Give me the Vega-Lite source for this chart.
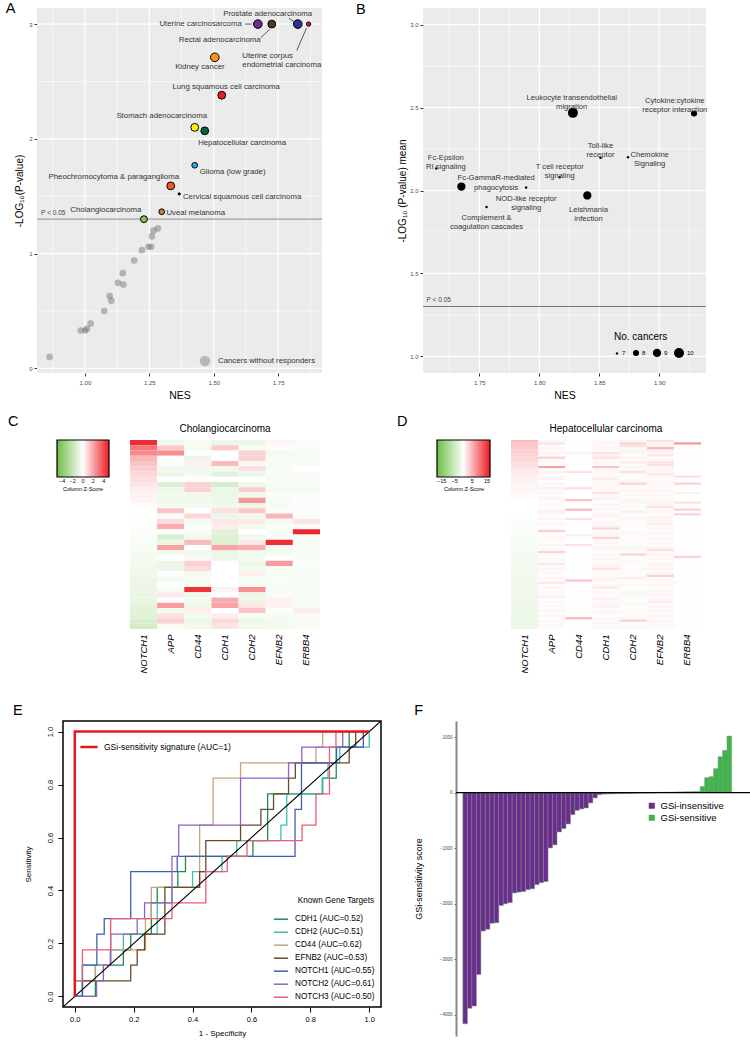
{
  "$schema": "https://vega.github.io/schema/vega-lite/v6.json",
  "padding": {"left": 4, "top": 0, "right": 0, "bottom": 0},
  "background": "white",
  "config": {
    "font": "Liberation Sans",
    "view": {"stroke": null},
    "title": {"fontWeight": "normal", "color": "#000"}
  },
  "spacing": 12,
  "vconcat": [
    {
      "concat": [
        {"width": 1, "height": 1, "view": {"fill": "white", "stroke": null}, "data": {"values": []}, "mark": "point"},
        {
          "title": {"text": "A", "anchor": "start", "frame": "bounds", "fontSize": 14.5, "dx": -9, "offset": -9},
          "width": 285, "height": 365,
          "view": {"fill": "#EBEBEB", "stroke": null},
          "layer": [
            {
              "data": {"values": [
                {"gx": 0.875, "kind": "minor"}, {"gx": 1.0, "kind": "major"}, {"gx": 1.125, "kind": "minor"}, {"gx": 1.25, "kind": "major"},
                {"gx": 1.375, "kind": "minor"}, {"gx": 1.5, "kind": "major"}, {"gx": 1.625, "kind": "minor"}, {"gx": 1.75, "kind": "major"}, {"gx": 1.875, "kind": "minor"}
              ]},
              "mark": {"type": "rule", "color": "white"},
              "encoding": {
                "x": {"field": "gx", "type": "quantitative", "title": "NES",
                  "scale": {"domain": [0.814, 1.92], "nice": false, "zero": false},
                  "axis": {"values": [1, 1.25, 1.5, 1.75], "format": ".2f", "grid": false, "tickSize": 3, "tickColor": "#333", "domain": false,
                    "labelFontSize": 6, "labelColor": "#4d4d4d", "labelPadding": 3, "titleFontSize": 10.5, "titleFontWeight": "normal", "titlePadding": 5}},
                "strokeWidth": {"field": "kind", "type": "nominal", "scale": {"domain": ["major", "minor"], "range": [1.2, 0.6]}, "legend": null}
              }
            },
            {
              "data": {"values": [
                {"gy": 0, "kind": "major"}, {"gy": 0.5, "kind": "minor"}, {"gy": 1, "kind": "major"}, {"gy": 1.5, "kind": "minor"},
                {"gy": 2, "kind": "major"}, {"gy": 2.5, "kind": "minor"}, {"gy": 3, "kind": "major"}
              ]},
              "mark": {"type": "rule", "color": "white"},
              "encoding": {
                "y": {"field": "gy", "type": "quantitative", "title": "-LOG₁₀(P-value)",
                  "scale": {"domain": [-0.04, 3.14], "nice": false, "zero": false},
                  "axis": {"values": [0, 1, 2, 3], "format": "d", "grid": false, "tickSize": 3, "tickColor": "#333", "domain": false,
                    "labelFontSize": 6, "labelColor": "#4d4d4d", "labelPadding": 2, "titleFontSize": 10, "titleFontWeight": "normal", "titlePadding": 4}},
                "strokeWidth": {"field": "kind", "type": "nominal", "scale": {"domain": ["major", "minor"], "range": [1.2, 0.6]}, "legend": null}
              }
            },
            {
              "data": {"values": [{"logp": 1.301}]},
              "mark": {"type": "rule", "color": "#8a8a8a", "strokeWidth": 1},
              "encoding": {"y": {"field": "logp", "type": "quantitative", "title": "-LOG₁₀(P-value)"}}
            },
            {
              "data": {"values": [
                {"nes": 0.863, "logp": 0.10, "group": "Cancers without responders"},
                {"nes": 0.984, "logp": 0.33, "group": "Cancers without responders"},
                {"nes": 1.001, "logp": 0.33, "group": "Cancers without responders"},
                {"nes": 1.008, "logp": 0.345, "group": "Cancers without responders"},
                {"nes": 1.022, "logp": 0.39, "group": "Cancers without responders"},
                {"nes": 1.075, "logp": 0.50, "group": "Cancers without responders"},
                {"nes": 1.096, "logp": 0.63, "group": "Cancers without responders"},
                {"nes": 1.102, "logp": 0.59, "group": "Cancers without responders"},
                {"nes": 1.128, "logp": 0.745, "group": "Cancers without responders"},
                {"nes": 1.149, "logp": 0.73, "group": "Cancers without responders"},
                {"nes": 1.147, "logp": 0.83, "group": "Cancers without responders"},
                {"nes": 1.191, "logp": 0.94, "group": "Cancers without responders"},
                {"nes": 1.221, "logp": 1.03, "group": "Cancers without responders"},
                {"nes": 1.247, "logp": 1.06, "group": "Cancers without responders"},
                {"nes": 1.257, "logp": 1.06, "group": "Cancers without responders"},
                {"nes": 1.260, "logp": 1.15, "group": "Cancers without responders"},
                {"nes": 1.266, "logp": 1.20, "group": "Cancers without responders"},
                {"nes": 1.283, "logp": 1.22, "group": "Cancers without responders"}
              ]},
              "mark": {"type": "circle", "opacity": 0.5, "size": 44},
              "encoding": {
                "x": {"field": "nes", "type": "quantitative", "title": "NES"},
                "y": {"field": "logp", "type": "quantitative", "title": "-LOG₁₀(P-value)"},
                "color": {"field": "group", "type": "nominal", "scale": {"range": ["#7a7a7a"]},
                  "legend": {"title": null, "orient": "bottom-right", "symbolSize": 110, "symbolOpacity": 0.45, "labelFontSize": 7.8, "labelColor": "#333", "offset": 6, "labelOffset": 7}}
              }
            },
            {
              "data": {"values": [
                {"nes": 1.671, "logp": 3.0, "responders": 6, "hex": "#6B2E8F"},
                {"nes": 1.725, "logp": 3.0, "responders": 5, "hex": "#5A3A1E"},
                {"nes": 1.826, "logp": 3.0, "responders": 6, "hex": "#2E3192"},
                {"nes": 1.868, "logp": 3.0, "responders": 2, "hex": "#EC008C"},
                {"nes": 1.504, "logp": 2.71, "responders": 6, "hex": "#F7931E"},
                {"nes": 1.531, "logp": 2.38, "responders": 5, "hex": "#ED1C24"},
                {"nes": 1.426, "logp": 2.10, "responders": 5, "hex": "#FFF200"},
                {"nes": 1.465, "logp": 2.07, "responders": 5, "hex": "#006837"},
                {"nes": 1.426, "logp": 1.77, "responders": 3, "hex": "#29ABE2"},
                {"nes": 1.333, "logp": 1.59, "responders": 5, "hex": "#F15A24"},
                {"nes": 1.366, "logp": 1.52, "responders": 1, "hex": "#000000"},
                {"nes": 1.298, "logp": 1.365, "responders": 3, "hex": "#C1813F"},
                {"nes": 1.229, "logp": 1.30, "responders": 4, "hex": "#8CC63F"}
              ]},
              "mark": {"type": "circle", "stroke": "#000", "strokeWidth": 1, "opacity": 1},
              "encoding": {
                "x": {"field": "nes", "type": "quantitative", "title": "NES"},
                "y": {"field": "logp", "type": "quantitative", "title": "-LOG₁₀(P-value)"},
                "fill": {"field": "hex", "type": "nominal", "scale": null},
                "size": {"field": "responders", "type": "quantitative", "scale": {"domain": [1, 6], "range": [5, 75]}, "legend": null}
              }
            },
            {
              "data": {"values": [
                {"nes": 1.621, "logp": 3.0, "nes2": 1.647, "logp2": 3.0},
                {"nes": 1.682, "logp": 2.88, "nes2": 1.717, "logp2": 2.955},
                {"nes": 1.792, "logp": 3.05, "nes2": 1.813, "logp2": 3.02},
                {"nes": 1.822, "logp": 2.77, "nes2": 1.860, "logp2": 2.965}
              ]},
              "mark": {"type": "rule", "color": "#333", "strokeWidth": 0.8},
              "encoding": {
                "x": {"field": "nes", "type": "quantitative", "title": "NES"},
                "y": {"field": "logp", "type": "quantitative", "title": "-LOG₁₀(P-value)"},
                "x2": {"field": "nes2"},
                "y2": {"field": "logp2"}
              }
            },
            {
              "data": {"values": [
                {"nes": 1.709, "logp": 3.09, "label": "Prostate adenocarcinoma"},
                {"nes": 1.449, "logp": 3.0, "label": "Uterine carcinosarcoma"},
                {"nes": 1.523, "logp": 2.86, "label": "Rectal adenocarcinoma"},
                {"nes": 1.709, "logp": 2.72, "label": "Uterine corpus"},
                {"nes": 1.764, "logp": 2.645, "label": "endometrial carcinoma"},
                {"nes": 1.446, "logp": 2.63, "label": "Kidney cancer"},
                {"nes": 1.548, "logp": 2.45, "label": "Lung squamous cell carcinoma"},
                {"nes": 1.298, "logp": 2.20, "label": "Stomach adenocarcinoma"},
                {"nes": 1.610, "logp": 1.965, "label": "Hepatocellular carcinoma"},
                {"nes": 1.573, "logp": 1.71, "label": "Glioma (low grade)"},
                {"nes": 1.112, "logp": 1.67, "label": "Pheochromocytoma &  paraganglioma"},
                {"nes": 1.610, "logp": 1.49, "label": "Cervical squamous cell carcinoma"},
                {"nes": 1.430, "logp": 1.357, "label": "Uveal melanoma"},
                {"nes": 1.081, "logp": 1.38, "label": "Cholangiocarcinoma"}
              ]},
              "mark": {"type": "text", "fontSize": 7.8, "fill": "#333333"},
              "encoding": {
                "x": {"field": "nes", "type": "quantitative", "title": "NES"},
                "y": {"field": "logp", "type": "quantitative", "title": "-LOG₁₀(P-value)"},
                "text": {"field": "label"}
              }
            },
            {
              "data": {"values": [{"nes": 0.83, "logp": 1.355, "label": "P < 0.05"}]},
              "mark": {"type": "text", "fontSize": 6.5, "fill": "#444444", "align": "left"},
              "encoding": {
                "x": {"field": "nes", "type": "quantitative", "title": "NES"},
                "y": {"field": "logp", "type": "quantitative", "title": "-LOG₁₀(P-value)"},
                "text": {"field": "label"}
              }
            }
          ],
          "resolve": {"scale": {"color": "independent"}}
        },
        {"width": 74, "height": 1, "view": {"fill": "white", "stroke": null}, "data": {"values": []}, "mark": "point",
          "title": {"text": "B", "anchor": "start", "frame": "bounds", "fontSize": 14.5, "dx": 33, "offset": -9}},
        {
          "width": 283, "height": 365,
          "view": {"fill": "#EBEBEB", "stroke": null},
          "layer": [
            {
              "data": {"values": [
                {"gx": 1.725, "kind": "minor"}, {"gx": 1.75, "kind": "major"}, {"gx": 1.775, "kind": "minor"}, {"gx": 1.8, "kind": "major"},
                {"gx": 1.825, "kind": "minor"}, {"gx": 1.85, "kind": "major"}, {"gx": 1.875, "kind": "minor"}, {"gx": 1.9, "kind": "major"}, {"gx": 1.925, "kind": "minor"}
              ]},
              "mark": {"type": "rule", "color": "white"},
              "encoding": {
                "x": {"field": "gx", "type": "quantitative", "title": "NES",
                  "scale": {"domain": [1.703, 1.939], "nice": false, "zero": false},
                  "axis": {"values": [1.75, 1.8, 1.85, 1.9], "format": ".2f", "grid": false, "tickSize": 3, "tickColor": "#333", "domain": false,
                    "labelFontSize": 6, "labelColor": "#4d4d4d", "labelPadding": 3, "titleFontSize": 10.5, "titleFontWeight": "normal", "titlePadding": 5}},
                "strokeWidth": {"field": "kind", "type": "nominal", "scale": {"domain": ["major", "minor"], "range": [1.2, 0.6]}, "legend": null}
              }
            },
            {
              "data": {"values": [
                {"gy": 1.0, "kind": "major"}, {"gy": 1.25, "kind": "minor"}, {"gy": 1.5, "kind": "major"}, {"gy": 1.75, "kind": "minor"},
                {"gy": 2.0, "kind": "major"}, {"gy": 2.25, "kind": "minor"}, {"gy": 2.5, "kind": "major"}, {"gy": 2.75, "kind": "minor"}, {"gy": 3.0, "kind": "major"}
              ]},
              "mark": {"type": "rule", "color": "white"},
              "encoding": {
                "y": {"field": "gy", "type": "quantitative", "title": "-LOG₁₀ (P-value) mean",
                  "scale": {"domain": [0.9, 3.1], "nice": false, "zero": false},
                  "axis": {"values": [1, 1.5, 2, 2.5, 3], "format": ".1f", "grid": false, "tickSize": 3, "tickColor": "#333", "domain": false,
                    "labelFontSize": 6, "labelColor": "#4d4d4d", "labelPadding": 2, "titleFontSize": 10, "titleFontWeight": "normal", "titlePadding": 2}},
                "strokeWidth": {"field": "kind", "type": "nominal", "scale": {"domain": ["major", "minor"], "range": [1.2, 0.6]}, "legend": null}
              }
            },
            {
              "data": {"values": [{"logp": 1.301}]},
              "mark": {"type": "rule", "color": "#7a7a7a", "strokeWidth": 1},
              "encoding": {"y": {"field": "logp", "type": "quantitative", "title": "-LOG₁₀ (P-value) mean"}}
            },
            {
              "data": {"values": [
                {"nes": 1.828, "logp": 2.468, "cancers": 10},
                {"nes": 1.929, "logp": 2.464, "cancers": 8},
                {"nes": 1.851, "logp": 2.197, "cancers": 7},
                {"nes": 1.874, "logp": 2.20, "cancers": 7},
                {"nes": 1.714, "logp": 2.133, "cancers": 7},
                {"nes": 1.817, "logp": 2.08, "cancers": 7},
                {"nes": 1.735, "logp": 2.024, "cancers": 9},
                {"nes": 1.789, "logp": 2.018, "cancers": 7},
                {"nes": 1.840, "logp": 1.970, "cancers": 9},
                {"nes": 1.756, "logp": 1.90, "cancers": 7}
              ]},
              "mark": {"type": "circle", "color": "#000", "opacity": 1},
              "encoding": {
                "x": {"field": "nes", "type": "quantitative", "title": "NES"},
                "y": {"field": "logp", "type": "quantitative", "title": "-LOG₁₀ (P-value) mean"},
                "size": {"field": "cancers", "type": "quantitative", "scale": {"domain": [7, 10], "range": [6, 100]},
                  "legend": {"title": "No. cancers", "orient": "bottom-right", "direction": "horizontal", "values": [7, 8, 9, 10], "format": "d",
                    "titleFontSize": 10, "titleFontWeight": "normal", "labelFontSize": 6, "offset": 12, "columnPadding": 3, "labelOffset": 2}}
              }
            },
            {
              "data": {"values": [
                {"nes": 1.827, "logp": 2.557, "label": "Leukocyte transendothelial\nmigration"},
                {"nes": 1.913, "logp": 2.542, "label": "Cytokine:cytokine\nreceptor interaction"},
                {"nes": 1.851, "logp": 2.27, "label": "Toll-like\nreceptor"},
                {"nes": 1.892, "logp": 2.215, "label": "Chemokine\nSignaling"},
                {"nes": 1.722, "logp": 2.195, "label": "Fc-Epsilon\nRI signaling"},
                {"nes": 1.817, "logp": 2.142, "label": "T cell receptor\nsignaling"},
                {"nes": 1.764, "logp": 2.073, "label": "Fc-GammaR-mediated\nphagocytosis"},
                {"nes": 1.789, "logp": 1.949, "label": "NOD-like receptor\nsignaling"},
                {"nes": 1.841, "logp": 1.883, "label": "Leishmania\ninfection"},
                {"nes": 1.756, "logp": 1.833, "label": "Complement &\ncoagulation cascades"}
              ]},
              "mark": {"type": "text", "fontSize": 7.6, "fill": "#333333", "lineBreak": "\n", "lineHeight": 9.2},
              "encoding": {
                "x": {"field": "nes", "type": "quantitative", "title": "NES"},
                "y": {"field": "logp", "type": "quantitative", "title": "-LOG₁₀ (P-value) mean"},
                "text": {"field": "label"}
              }
            },
            {
              "data": {"values": [{"nes": 1.706, "logp": 1.343, "label": "P < 0.05"}]},
              "mark": {"type": "text", "fontSize": 6.5, "fill": "#444444", "align": "left"},
              "encoding": {
                "x": {"field": "nes", "type": "quantitative", "title": "NES"},
                "y": {"field": "logp", "type": "quantitative", "title": "-LOG₁₀ (P-value) mean"},
                "text": {"field": "label"}
              }
            }
          ]
        }
      ],
      "columns": 4,
      "align": "each",
      "spacing": 0,
      "resolve": {"scale": {"x": "independent", "y": "independent", "color": "independent", "size": "independent", "fill": "independent", "strokeWidth": "independent"}}
    },
    {
      "concat": [
        {"width": 53, "height": 1, "view": {"fill": "white", "stroke": null}, "data": {"values": []}, "mark": "point",
          "title": {"text": "C", "anchor": "start", "frame": "bounds", "fontSize": 14.5, "dx": 4, "offset": 11}},
        {
          "title": {"text": "Cholangiocarcinoma", "fontSize": 10, "anchor": "middle", "frame": "group", "offset": 6},
          "width": 190, "height": 189,
          "data": {"values": [
            {"s": 0, "NOTCH1": 4.6, "APP": -0.5, "CD44": -0.3, "CDH1": -0.6, "CDH2": -0.7, "EFNB2": 0.2, "ERBB4": -0.2},
            {"s": 1, "NOTCH1": 3.0, "APP": 1.2, "CD44": -0.4, "CDH1": 1.2, "CDH2": -0.3, "EFNB2": 0.1, "ERBB4": -0.2},
            {"s": 2, "NOTCH1": 2.6, "APP": 2.5, "CD44": 0.0, "CDH1": 0.0, "CDH2": 1.0, "EFNB2": -0.4, "ERBB4": -0.3},
            {"s": 3, "NOTCH1": 1.6, "APP": 0.0, "CD44": -0.6, "CDH1": 0.0, "CDH2": 1.0, "EFNB2": -0.3, "ERBB4": -0.3},
            {"s": 4, "NOTCH1": 1.3, "APP": -0.2, "CD44": 0.3, "CDH1": 1.5, "CDH2": -0.3, "EFNB2": -0.3, "ERBB4": -0.2},
            {"s": 5, "NOTCH1": 1.1, "APP": -0.5, "CD44": -0.5, "CDH1": -0.5, "CDH2": 0.7, "EFNB2": -0.3, "ERBB4": 0.0},
            {"s": 6, "NOTCH1": 0.9, "APP": -0.6, "CD44": -0.4, "CDH1": -1.0, "CDH2": -0.6, "EFNB2": -0.2, "ERBB4": -0.2},
            {"s": 7, "NOTCH1": 0.7, "APP": 0.0, "CD44": 0.0, "CDH1": 0.0, "CDH2": 0.0, "EFNB2": -0.3, "ERBB4": -0.3},
            {"s": 8, "NOTCH1": 0.55, "APP": -1.2, "CD44": 1.0, "CDH1": -1.4, "CDH2": -0.5, "EFNB2": -0.3, "ERBB4": -0.2},
            {"s": 9, "NOTCH1": 0.4, "APP": -0.6, "CD44": 1.0, "CDH1": -0.7, "CDH2": 1.1, "EFNB2": -0.3, "ERBB4": -0.3},
            {"s": 10, "NOTCH1": 0.3, "APP": -0.5, "CD44": -0.5, "CDH1": -0.7, "CDH2": -0.5, "EFNB2": -0.2, "ERBB4": -0.2},
            {"s": 11, "NOTCH1": 0.2, "APP": -0.5, "CD44": -0.5, "CDH1": -0.6, "CDH2": 2.3, "EFNB2": -0.3, "ERBB4": -0.1},
            {"s": 12, "NOTCH1": 0.1, "APP": -0.4, "CD44": -0.4, "CDH1": -0.5, "CDH2": -0.6, "EFNB2": -0.3, "ERBB4": 0.1},
            {"s": 13, "NOTCH1": 0.05, "APP": 1.3, "CD44": 0.0, "CDH1": 0.7, "CDH2": 1.2, "EFNB2": -0.2, "ERBB4": -0.2},
            {"s": 14, "NOTCH1": 0.0, "APP": -0.2, "CD44": 0.9, "CDH1": -0.6, "CDH2": -0.4, "EFNB2": 1.6, "ERBB4": -0.2},
            {"s": 15, "NOTCH1": -0.05, "APP": 0.8, "CD44": -0.4, "CDH1": 0.5, "CDH2": 0.5, "EFNB2": -0.3, "ERBB4": 0.6},
            {"s": 16, "NOTCH1": -0.1, "APP": 1.8, "CD44": -0.2, "CDH1": 0.4, "CDH2": -0.4, "EFNB2": -0.2, "ERBB4": -0.2},
            {"s": 17, "NOTCH1": -0.15, "APP": -0.1, "CD44": -0.3, "CDH1": -1.0, "CDH2": 0.0, "EFNB2": -0.3, "ERBB4": 4.8},
            {"s": 18, "NOTCH1": -0.2, "APP": -1.3, "CD44": -0.5, "CDH1": -1.2, "CDH2": -0.5, "EFNB2": -0.2, "ERBB4": -0.3},
            {"s": 19, "NOTCH1": -0.25, "APP": -0.7, "CD44": 1.5, "CDH1": -1.2, "CDH2": 0.5, "EFNB2": 4.6, "ERBB4": -0.3},
            {"s": 20, "NOTCH1": -0.3, "APP": 2.0, "CD44": 0.0, "CDH1": 2.0, "CDH2": 1.8, "EFNB2": -0.3, "ERBB4": -0.2},
            {"s": 21, "NOTCH1": -0.35, "APP": -0.5, "CD44": -0.5, "CDH1": -0.7, "CDH2": -0.5, "EFNB2": -0.4, "ERBB4": -0.3},
            {"s": 22, "NOTCH1": -0.4, "APP": 0.0, "CD44": -0.3, "CDH1": -0.6, "CDH2": -0.4, "EFNB2": 0.0, "ERBB4": -0.2},
            {"s": 23, "NOTCH1": -0.45, "APP": -0.6, "CD44": 1.0, "CDH1": 0.0, "CDH2": -0.6, "EFNB2": 2.2, "ERBB4": -0.2},
            {"s": 24, "NOTCH1": -0.5, "APP": -0.6, "CD44": 0.8, "CDH1": 0.0, "CDH2": -0.4, "EFNB2": -0.3, "ERBB4": -0.3},
            {"s": 25, "NOTCH1": -0.55, "APP": 0.0, "CD44": -0.4, "CDH1": 0.0, "CDH2": 0.4, "EFNB2": -0.3, "ERBB4": -0.2},
            {"s": 26, "NOTCH1": -0.6, "APP": -0.4, "CD44": -0.3, "CDH1": 0.0, "CDH2": -0.3, "EFNB2": -0.2, "ERBB4": -0.3},
            {"s": 27, "NOTCH1": -0.65, "APP": 0.0, "CD44": -0.3, "CDH1": 0.0, "CDH2": -0.4, "EFNB2": -0.3, "ERBB4": -0.2},
            {"s": 28, "NOTCH1": -0.7, "APP": -0.3, "CD44": 4.5, "CDH1": 0.3, "CDH2": 2.5, "EFNB2": -0.3, "ERBB4": -0.3},
            {"s": 29, "NOTCH1": -0.75, "APP": 0.5, "CD44": -0.5, "CDH1": 0.0, "CDH2": -0.7, "EFNB2": -0.2, "ERBB4": -0.3},
            {"s": 30, "NOTCH1": -0.8, "APP": 0.0, "CD44": -0.4, "CDH1": 1.8, "CDH2": -0.6, "EFNB2": 0.3, "ERBB4": -0.2},
            {"s": 31, "NOTCH1": -0.9, "APP": 2.2, "CD44": -0.5, "CDH1": 2.0, "CDH2": 0.6, "EFNB2": 0.3, "ERBB4": -0.3},
            {"s": 32, "NOTCH1": -1.0, "APP": -0.4, "CD44": 0.4, "CDH1": 0.0, "CDH2": 1.3, "EFNB2": -0.1, "ERBB4": 0.4},
            {"s": 33, "NOTCH1": -1.1, "APP": 0.7, "CD44": -0.4, "CDH1": 0.4, "CDH2": -0.3, "EFNB2": -0.3, "ERBB4": -0.2},
            {"s": 34, "NOTCH1": -1.3, "APP": 1.0, "CD44": -0.6, "CDH1": 0.8, "CDH2": -0.6, "EFNB2": -0.4, "ERBB4": -0.3},
            {"s": 35, "NOTCH1": -1.5, "APP": -0.3, "CD44": -0.5, "CDH1": 0.6, "CDH2": -0.5, "EFNB2": -0.4, "ERBB4": -0.3}
          ]},
          "transform": [{"fold": ["NOTCH1", "APP", "CD44", "CDH1", "CDH2", "EFNB2", "ERBB4"], "as": ["gene", "z"]}],
          "mark": {"type": "rect"},
          "encoding": {
            "x": {"field": "gene", "type": "nominal", "sort": ["NOTCH1", "APP", "CD44", "CDH1", "CDH2", "EFNB2", "ERBB4"],
              "scale": {"paddingInner": 0, "paddingOuter": 0},
              "axis": {"labelAngle": -90, "labelFontStyle": "italic", "labelFontSize": 9.5, "ticks": false, "domain": false, "title": " ", "titleFontSize": 10, "titlePadding": 5, "labelPadding": 5, "labelColor": "#000"}},
            "y": {"field": "s", "type": "ordinal", "axis": null, "scale": {"paddingInner": 0, "paddingOuter": 0}},
            "color": {"field": "z", "type": "quantitative",
              "scale": {"type": "linear", "domain": [-5, 0, 5], "range": ["#6DBE45", "#FFFFFF", "#ED1C24"], "interpolate": "rgb"},
              "legend": {"orient": "left", "direction": "horizontal", "gradientLength": 52, "gradientThickness": 37,
                "gradientStrokeColor": "#000", "gradientStrokeWidth": 1.2, "values": [-4, -2, 0, 2, 4], "labelFontSize": 5.5,
                "title": "Column Z-Score", "titleOrient": "bottom", "titleFontSize": 5.5, "titleFontWeight": "normal", "titleAnchor": "middle",
                "offset": 20, "labelOverlap": false, "titlePadding": 2}}
          }
        },
        {"width": 117, "height": 1, "view": {"fill": "white", "stroke": null}, "data": {"values": []}, "mark": "point",
          "title": {"text": "D", "anchor": "start", "frame": "bounds", "fontSize": 14.5, "dx": 77, "offset": 11}},
        {
          "title": {"text": "Hepatocellular carcinoma", "fontSize": 10, "anchor": "middle", "frame": "group", "offset": 6},
          "width": 190, "height": 189,
          "data": {"values": [
            {"s":0,"NOTCH1":4.5,"APP":0.6,"CD44":-0.2,"CDH1":0.5,"CDH2":0.8,"EFNB2":2,"ERBB4":0.2},
            {"s":1,"NOTCH1":4.2,"APP":2,"CD44":0.1,"CDH1":0.7,"CDH2":3,"EFNB2":0.6,"ERBB4":7},
            {"s":2,"NOTCH1":3.9,"APP":0.4,"CD44":-0.3,"CDH1":0.3,"CDH2":2,"EFNB2":0.9,"ERBB4":0.1},
            {"s":3,"NOTCH1":3.6,"APP":0.8,"CD44":0.0,"CDH1":0.6,"CDH2":0.5,"EFNB2":5,"ERBB4":0.3},
            {"s":4,"NOTCH1":3.4,"APP":0.3,"CD44":-0.2,"CDH1":0.2,"CDH2":-1.5,"EFNB2":1.0,"ERBB4":0.0},
            {"s":5,"NOTCH1":3.2,"APP":0.7,"CD44":1,"CDH1":2,"CDH2":0.6,"EFNB2":0.7,"ERBB4":0.2},
            {"s":6,"NOTCH1":3.0,"APP":0.2,"CD44":-0.3,"CDH1":0.8,"CDH2":0.3,"EFNB2":1.5,"ERBB4":0.1},
            {"s":7,"NOTCH1":2.8,"APP":3,"CD44":0.1,"CDH1":2,"CDH2":0.9,"EFNB2":0.4,"ERBB4":0.2},
            {"s":8,"NOTCH1":2.6,"APP":0.5,"CD44":-0.2,"CDH1":0.4,"CDH2":-0.6,"EFNB2":0.8,"ERBB4":0.0},
            {"s":9,"NOTCH1":2.4,"APP":0.6,"CD44":0.0,"CDH1":0.7,"CDH2":1.5,"EFNB2":2,"ERBB4":0.3},
            {"s":10,"NOTCH1":2.2,"APP":0.2,"CD44":-0.3,"CDH1":0.3,"CDH2":0.4,"EFNB2":2,"ERBB4":0.1},
            {"s":11,"NOTCH1":2.0,"APP":6,"CD44":0.1,"CDH1":4,"CDH2":0.7,"EFNB2":0.6,"ERBB4":0.2},
            {"s":12,"NOTCH1":1.8,"APP":0.4,"CD44":-0.2,"CDH1":0.5,"CDH2":-0.8,"EFNB2":0.9,"ERBB4":0.0},
            {"s":13,"NOTCH1":1.6,"APP":0.8,"CD44":2,"CDH1":0.6,"CDH2":2,"EFNB2":0.5,"ERBB4":0.2},
            {"s":14,"NOTCH1":1.4,"APP":0.3,"CD44":0.0,"CDH1":0.3,"CDH2":0.5,"EFNB2":1.5,"ERBB4":0.1},
            {"s":15,"NOTCH1":1.2,"APP":0.5,"CD44":-0.3,"CDH1":0.8,"CDH2":0.3,"EFNB2":0.7,"ERBB4":2},
            {"s":16,"NOTCH1":1.0,"APP":0.7,"CD44":0.1,"CDH1":1.2,"CDH2":-0.5,"EFNB2":0.4,"ERBB4":0.1},
            {"s":17,"NOTCH1":0.9,"APP":0.2,"CD44":-0.2,"CDH1":0.4,"CDH2":0.6,"EFNB2":0.8,"ERBB4":0.0},
            {"s":18,"NOTCH1":0.8,"APP":0.6,"CD44":0.0,"CDH1":0.5,"CDH2":3,"EFNB2":0.3,"ERBB4":3},
            {"s":19,"NOTCH1":0.7,"APP":0.4,"CD44":-0.3,"CDH1":0.7,"CDH2":0.4,"EFNB2":0.6,"ERBB4":0.2},
            {"s":20,"NOTCH1":0.6,"APP":1.2,"CD44":2,"CDH1":0.3,"CDH2":-0.6,"EFNB2":0.5,"ERBB4":0.1},
            {"s":21,"NOTCH1":0.5,"APP":0.3,"CD44":0.1,"CDH1":0.6,"CDH2":0.7,"EFNB2":0.8,"ERBB4":0.0},
            {"s":22,"NOTCH1":0.4,"APP":0.6,"CD44":-0.2,"CDH1":2,"CDH2":0.2,"EFNB2":0.4,"ERBB4":1},
            {"s":23,"NOTCH1":0.3,"APP":0.2,"CD44":0.0,"CDH1":0.4,"CDH2":0.5,"EFNB2":0.6,"ERBB4":0.2},
            {"s":24,"NOTCH1":0.2,"APP":0.7,"CD44":-0.3,"CDH1":0.8,"CDH2":-0.4,"EFNB2":0.3,"ERBB4":0.1},
            {"s":25,"NOTCH1":0.1,"APP":0.4,"CD44":4,"CDH1":0.5,"CDH2":-1.2,"EFNB2":0.7,"ERBB4":0.0},
            {"s":26,"NOTCH1":0.0,"APP":0.3,"CD44":0.1,"CDH1":0.3,"CDH2":0.6,"EFNB2":0.5,"ERBB4":2},
            {"s":27,"NOTCH1":0.0,"APP":0.6,"CD44":-0.2,"CDH1":0.7,"CDH2":0.3,"EFNB2":0.8,"ERBB4":0.1},
            {"s":28,"NOTCH1":-0.1,"APP":0.2,"CD44":0.0,"CDH1":0.4,"CDH2":0.5,"EFNB2":2,"ERBB4":0.2},
            {"s":29,"NOTCH1":-0.1,"APP":0.5,"CD44":4,"CDH1":0.6,"CDH2":-0.5,"EFNB2":0.4,"ERBB4":3},
            {"s":30,"NOTCH1":-0.2,"APP":1.2,"CD44":-0.3,"CDH1":0.3,"CDH2":1.2,"EFNB2":0.6,"ERBB4":0.0},
            {"s":31,"NOTCH1":-0.2,"APP":0.4,"CD44":0.1,"CDH1":0.8,"CDH2":0.4,"EFNB2":0.3,"ERBB4":3},
            {"s":32,"NOTCH1":-0.3,"APP":0.3,"CD44":-0.2,"CDH1":0.5,"CDH2":-0.7,"EFNB2":0.7,"ERBB4":0.1},
            {"s":33,"NOTCH1":-0.3,"APP":0.7,"CD44":2,"CDH1":0.2,"CDH2":0.6,"EFNB2":0.5,"ERBB4":0.2},
            {"s":34,"NOTCH1":-0.4,"APP":0.2,"CD44":0.0,"CDH1":0.6,"CDH2":0.3,"EFNB2":0.8,"ERBB4":0.0},
            {"s":35,"NOTCH1":-0.4,"APP":0.6,"CD44":-0.3,"CDH1":0.4,"CDH2":-0.4,"EFNB2":1.2,"ERBB4":0.1},
            {"s":36,"NOTCH1":-0.5,"APP":0.4,"CD44":0.1,"CDH1":0.7,"CDH2":0.5,"EFNB2":0.4,"ERBB4":0.2},
            {"s":37,"NOTCH1":-0.5,"APP":0.3,"CD44":-0.2,"CDH1":3,"CDH2":0.2,"EFNB2":0.6,"ERBB4":0.0},
            {"s":38,"NOTCH1":-0.6,"APP":3,"CD44":0.0,"CDH1":0.3,"CDH2":-0.6,"EFNB2":0.3,"ERBB4":0.1},
            {"s":39,"NOTCH1":-0.6,"APP":0.5,"CD44":-0.3,"CDH1":0.5,"CDH2":0.7,"EFNB2":0.7,"ERBB4":0.2},
            {"s":40,"NOTCH1":-0.7,"APP":0.2,"CD44":1.2,"CDH1":0.8,"CDH2":0.4,"EFNB2":0.5,"ERBB4":0.0},
            {"s":41,"NOTCH1":-0.7,"APP":0.6,"CD44":0.1,"CDH1":3,"CDH2":-0.3,"EFNB2":0.8,"ERBB4":0.1},
            {"s":42,"NOTCH1":-0.8,"APP":0.4,"CD44":-0.2,"CDH1":0.4,"CDH2":0.6,"EFNB2":0.4,"ERBB4":0.2},
            {"s":43,"NOTCH1":-0.8,"APP":0.3,"CD44":0.0,"CDH1":0.6,"CDH2":0.3,"EFNB2":0.6,"ERBB4":0.0},
            {"s":44,"NOTCH1":-0.9,"APP":0.7,"CD44":2,"CDH1":0.3,"CDH2":-0.5,"EFNB2":0.3,"ERBB4":0.1},
            {"s":45,"NOTCH1":-0.9,"APP":0.2,"CD44":-0.3,"CDH1":0.7,"CDH2":-1.5,"EFNB2":0.7,"ERBB4":0.2},
            {"s":46,"NOTCH1":-1.0,"APP":0.5,"CD44":0.1,"CDH1":0.5,"CDH2":0.5,"EFNB2":2,"ERBB4":0.0},
            {"s":47,"NOTCH1":-1.0,"APP":3,"CD44":-0.2,"CDH1":0.2,"CDH2":0.2,"EFNB2":0.5,"ERBB4":0.1},
            {"s":48,"NOTCH1":-1.0,"APP":0.4,"CD44":0.0,"CDH1":0.6,"CDH2":3,"EFNB2":0.8,"ERBB4":0.2},
            {"s":49,"NOTCH1":-1.1,"APP":0.3,"CD44":-0.3,"CDH1":0.4,"CDH2":0.4,"EFNB2":0.4,"ERBB4":3},
            {"s":50,"NOTCH1":-1.1,"APP":0.6,"CD44":0.1,"CDH1":0.8,"CDH2":-0.6,"EFNB2":0.6,"ERBB4":0.1},
            {"s":51,"NOTCH1":-1.2,"APP":0.2,"CD44":-0.2,"CDH1":0.3,"CDH2":0.6,"EFNB2":0.3,"ERBB4":0.2},
            {"s":52,"NOTCH1":-1.2,"APP":1.5,"CD44":0.0,"CDH1":0.5,"CDH2":0.3,"EFNB2":0.7,"ERBB4":0.0},
            {"s":53,"NOTCH1":-1.2,"APP":0.4,"CD44":-0.3,"CDH1":0.7,"CDH2":-0.4,"EFNB2":0.5,"ERBB4":0.1},
            {"s":54,"NOTCH1":-1.3,"APP":0.7,"CD44":0.1,"CDH1":2,"CDH2":0.5,"EFNB2":0.8,"ERBB4":0.2},
            {"s":55,"NOTCH1":-1.3,"APP":0.3,"CD44":-0.2,"CDH1":0.4,"CDH2":0.2,"EFNB2":0.4,"ERBB4":0.0},
            {"s":56,"NOTCH1":-1.3,"APP":0.5,"CD44":0.0,"CDH1":0.6,"CDH2":-0.7,"EFNB2":0.6,"ERBB4":0.1},
            {"s":57,"NOTCH1":-1.4,"APP":0.2,"CD44":-0.3,"CDH1":0.3,"CDH2":0.4,"EFNB2":3,"ERBB4":0.2},
            {"s":58,"NOTCH1":-1.4,"APP":0.6,"CD44":0.1,"CDH1":0.8,"CDH2":1.2,"EFNB2":0.5,"ERBB4":0.0},
            {"s":59,"NOTCH1":-1.4,"APP":0.4,"CD44":4,"CDH1":0.5,"CDH2":0.3,"EFNB2":0.7,"ERBB4":0.1},
            {"s":60,"NOTCH1":-1.5,"APP":1.5,"CD44":-0.2,"CDH1":0.2,"CDH2":-0.5,"EFNB2":0.4,"ERBB4":0.2},
            {"s":61,"NOTCH1":-1.5,"APP":0.3,"CD44":0.0,"CDH1":0.6,"CDH2":0.6,"EFNB2":0.8,"ERBB4":0.0},
            {"s":62,"NOTCH1":-1.5,"APP":0.7,"CD44":-0.3,"CDH1":1.5,"CDH2":0.2,"EFNB2":0.3,"ERBB4":0.1},
            {"s":63,"NOTCH1":-1.6,"APP":0.2,"CD44":0.1,"CDH1":0.4,"CDH2":-0.4,"EFNB2":0.6,"ERBB4":0.2},
            {"s":64,"NOTCH1":-1.6,"APP":0.5,"CD44":-0.2,"CDH1":0.7,"CDH2":0.5,"EFNB2":0.5,"ERBB4":0.0},
            {"s":65,"NOTCH1":-1.6,"APP":0.4,"CD44":0.0,"CDH1":0.3,"CDH2":-1.2,"EFNB2":0.7,"ERBB4":0.1},
            {"s":66,"NOTCH1":-1.7,"APP":1.2,"CD44":-0.3,"CDH1":0.5,"CDH2":0.4,"EFNB2":0.4,"ERBB4":0.2},
            {"s":67,"NOTCH1":-1.7,"APP":0.3,"CD44":0.1,"CDH1":0.8,"CDH2":0.3,"EFNB2":0.6,"ERBB4":0.0},
            {"s":68,"NOTCH1":-1.7,"APP":0.6,"CD44":-0.2,"CDH1":0.4,"CDH2":-0.6,"EFNB2":1.2,"ERBB4":0.1},
            {"s":69,"NOTCH1":-1.8,"APP":0.2,"CD44":0.0,"CDH1":0.6,"CDH2":0.6,"EFNB2":0.3,"ERBB4":0.2},
            {"s":70,"NOTCH1":-1.8,"APP":0.5,"CD44":-0.3,"CDH1":1.2,"CDH2":0.2,"EFNB2":0.7,"ERBB4":0.0},
            {"s":71,"NOTCH1":-1.8,"APP":0.4,"CD44":0.1,"CDH1":0.3,"CDH2":-0.4,"EFNB2":0.5,"ERBB4":0.1},
            {"s":72,"NOTCH1":-1.9,"APP":0.7,"CD44":-0.2,"CDH1":0.7,"CDH2":0.5,"EFNB2":0.8,"ERBB4":0.2},
            {"s":73,"NOTCH1":-1.9,"APP":0.3,"CD44":0.0,"CDH1":0.5,"CDH2":0.3,"EFNB2":0.4,"ERBB4":0.0},
            {"s":74,"NOTCH1":-1.9,"APP":0.6,"CD44":-0.3,"CDH1":0.2,"CDH2":-0.5,"EFNB2":0.6,"ERBB4":0.1},
            {"s":75,"NOTCH1":-2.0,"APP":0.2,"CD44":5,"CDH1":0.6,"CDH2":0.6,"EFNB2":0.3,"ERBB4":0.2},
            {"s":76,"NOTCH1":-2.0,"APP":0.5,"CD44":0.1,"CDH1":0.4,"CDH2":3,"EFNB2":0.7,"ERBB4":0.0},
            {"s":77,"NOTCH1":-2.0,"APP":0.4,"CD44":-0.2,"CDH1":0.8,"CDH2":0.2,"EFNB2":0.5,"ERBB4":0.1},
            {"s":78,"NOTCH1":-2.1,"APP":0.6,"CD44":0.0,"CDH1":0.3,"CDH2":-0.4,"EFNB2":0.6,"ERBB4":0.2},
            {"s":79,"NOTCH1":-2.1,"APP":0.3,"CD44":-0.3,"CDH1":0.5,"CDH2":0.5,"EFNB2":0.4,"ERBB4":0.0}
          ]},
          "transform": [{"fold": ["NOTCH1", "APP", "CD44", "CDH1", "CDH2", "EFNB2", "ERBB4"], "as": ["gene", "z"]}],
          "mark": {"type": "rect"},
          "encoding": {
            "x": {"field": "gene", "type": "nominal", "sort": ["NOTCH1", "APP", "CD44", "CDH1", "CDH2", "EFNB2", "ERBB4"],
              "scale": {"paddingInner": 0, "paddingOuter": 0},
              "axis": {"labelAngle": -90, "labelFontStyle": "italic", "labelFontSize": 9.5, "ticks": false, "domain": false, "title": " ", "titleFontSize": 10, "titlePadding": 5, "labelPadding": 5, "labelColor": "#000"}},
            "y": {"field": "s", "type": "ordinal", "axis": null, "scale": {"paddingInner": 0, "paddingOuter": 0}},
            "color": {"field": "z", "type": "quantitative",
              "scale": {"type": "linear", "domain": [-15, 0, 15], "range": ["#6DBE45", "#FFFFFF", "#ED1C24"], "interpolate": "rgb"},
              "legend": {"orient": "left", "direction": "horizontal", "gradientLength": 53, "gradientThickness": 37,
                "gradientStrokeColor": "#000", "gradientStrokeWidth": 1.2, "values": [-15, -5, 5, 15], "labelFontSize": 5.5,
                "title": "Column Z-Score", "titleOrient": "bottom", "titleFontSize": 5.5, "titleFontWeight": "normal", "titleAnchor": "middle",
                "offset": 20, "labelOverlap": false, "titlePadding": 2}}
          }
        }
      ],
      "columns": 4,
      "align": "each",
      "spacing": 0,
      "resolve": {"scale": {"x": "independent", "y": "independent", "color": "independent"}}
    },
    {
      "concat": [
        {"width": 8, "height": 1, "view": {"fill": "white", "stroke": null}, "data": {"values": []}, "mark": "point"},
        {
          "title": {"text": "E", "anchor": "start", "frame": "bounds", "fontSize": 14.5, "dx": -11, "offset": 3},
          "width": 318, "height": 286,
          "view": {"stroke": "#000", "strokeWidth": 1.5, "fill": "white"},
          "layer": [
            {
              "data": {"values": [
                {"g":"CDH1 (AUC=0.52)","i":0,"x":0,"y":0},{"g":"CDH1 (AUC=0.52)","i":1,"x":0.07,"y":0},{"g":"CDH1 (AUC=0.52)","i":2,"x":0.07,"y":0.118},{"g":"CDH1 (AUC=0.52)","i":3,"x":0.165,"y":0.118},{"g":"CDH1 (AUC=0.52)","i":4,"x":0.165,"y":0.176},{"g":"CDH1 (AUC=0.52)","i":5,"x":0.19,"y":0.176},{"g":"CDH1 (AUC=0.52)","i":6,"x":0.19,"y":0.235},{"g":"CDH1 (AUC=0.52)","i":7,"x":0.26,"y":0.235},{"g":"CDH1 (AUC=0.52)","i":8,"x":0.26,"y":0.353},{"g":"CDH1 (AUC=0.52)","i":9,"x":0.28,"y":0.353},{"g":"CDH1 (AUC=0.52)","i":10,"x":0.28,"y":0.412},{"g":"CDH1 (AUC=0.52)","i":11,"x":0.35,"y":0.412},{"g":"CDH1 (AUC=0.52)","i":12,"x":0.35,"y":0.471},{"g":"CDH1 (AUC=0.52)","i":13,"x":0.376,"y":0.471},{"g":"CDH1 (AUC=0.52)","i":14,"x":0.376,"y":0.529},{"g":"CDH1 (AUC=0.52)","i":15,"x":0.605,"y":0.529},{"g":"CDH1 (AUC=0.52)","i":16,"x":0.605,"y":0.588},{"g":"CDH1 (AUC=0.52)","i":17,"x":0.655,"y":0.588},{"g":"CDH1 (AUC=0.52)","i":18,"x":0.655,"y":0.765},{"g":"CDH1 (AUC=0.52)","i":19,"x":0.842,"y":0.765},{"g":"CDH1 (AUC=0.52)","i":20,"x":0.842,"y":0.824},{"g":"CDH1 (AUC=0.52)","i":21,"x":0.888,"y":0.824},{"g":"CDH1 (AUC=0.52)","i":22,"x":0.888,"y":0.941},{"g":"CDH1 (AUC=0.52)","i":23,"x":0.932,"y":0.941},{"g":"CDH1 (AUC=0.52)","i":24,"x":0.932,"y":1},{"g":"CDH1 (AUC=0.52)","i":25,"x":1,"y":1},
                {"g":"CDH2 (AUC=0.51)","i":0,"x":0,"y":0},{"g":"CDH2 (AUC=0.51)","i":1,"x":0.026,"y":0},{"g":"CDH2 (AUC=0.51)","i":2,"x":0.026,"y":0.118},{"g":"CDH2 (AUC=0.51)","i":3,"x":0.122,"y":0.118},{"g":"CDH2 (AUC=0.51)","i":4,"x":0.122,"y":0.176},{"g":"CDH2 (AUC=0.51)","i":5,"x":0.165,"y":0.176},{"g":"CDH2 (AUC=0.51)","i":6,"x":0.165,"y":0.235},{"g":"CDH2 (AUC=0.51)","i":7,"x":0.28,"y":0.235},{"g":"CDH2 (AUC=0.51)","i":8,"x":0.28,"y":0.353},{"g":"CDH2 (AUC=0.51)","i":9,"x":0.33,"y":0.353},{"g":"CDH2 (AUC=0.51)","i":10,"x":0.33,"y":0.412},{"g":"CDH2 (AUC=0.51)","i":11,"x":0.4,"y":0.412},{"g":"CDH2 (AUC=0.51)","i":12,"x":0.4,"y":0.471},{"g":"CDH2 (AUC=0.51)","i":13,"x":0.5,"y":0.471},{"g":"CDH2 (AUC=0.51)","i":14,"x":0.5,"y":0.529},{"g":"CDH2 (AUC=0.51)","i":15,"x":0.55,"y":0.529},{"g":"CDH2 (AUC=0.51)","i":16,"x":0.55,"y":0.588},{"g":"CDH2 (AUC=0.51)","i":17,"x":0.7,"y":0.588},{"g":"CDH2 (AUC=0.51)","i":18,"x":0.7,"y":0.647},{"g":"CDH2 (AUC=0.51)","i":19,"x":0.72,"y":0.647},{"g":"CDH2 (AUC=0.51)","i":20,"x":0.72,"y":0.765},{"g":"CDH2 (AUC=0.51)","i":21,"x":0.84,"y":0.765},{"g":"CDH2 (AUC=0.51)","i":22,"x":0.84,"y":0.824},{"g":"CDH2 (AUC=0.51)","i":23,"x":0.86,"y":0.824},{"g":"CDH2 (AUC=0.51)","i":24,"x":0.86,"y":0.882},{"g":"CDH2 (AUC=0.51)","i":25,"x":0.9,"y":0.882},{"g":"CDH2 (AUC=0.51)","i":26,"x":0.9,"y":0.941},{"g":"CDH2 (AUC=0.51)","i":27,"x":1,"y":0.941},{"g":"CDH2 (AUC=0.51)","i":28,"x":1,"y":1},
                {"g":"CD44 (AUC=0.62)","i":0,"x":0,"y":0},{"g":"CD44 (AUC=0.62)","i":1,"x":0,"y":0.059},{"g":"CD44 (AUC=0.62)","i":2,"x":0.07,"y":0.059},{"g":"CD44 (AUC=0.62)","i":3,"x":0.07,"y":0.118},{"g":"CD44 (AUC=0.62)","i":4,"x":0.12,"y":0.118},{"g":"CD44 (AUC=0.62)","i":5,"x":0.12,"y":0.176},{"g":"CD44 (AUC=0.62)","i":6,"x":0.24,"y":0.176},{"g":"CD44 (AUC=0.62)","i":7,"x":0.24,"y":0.294},{"g":"CD44 (AUC=0.62)","i":8,"x":0.26,"y":0.294},{"g":"CD44 (AUC=0.62)","i":9,"x":0.26,"y":0.412},{"g":"CD44 (AUC=0.62)","i":10,"x":0.424,"y":0.412},{"g":"CD44 (AUC=0.62)","i":11,"x":0.424,"y":0.647},{"g":"CD44 (AUC=0.62)","i":12,"x":0.47,"y":0.647},{"g":"CD44 (AUC=0.62)","i":13,"x":0.47,"y":0.824},{"g":"CD44 (AUC=0.62)","i":14,"x":0.563,"y":0.824},{"g":"CD44 (AUC=0.62)","i":15,"x":0.563,"y":0.882},{"g":"CD44 (AUC=0.62)","i":16,"x":0.819,"y":0.882},{"g":"CD44 (AUC=0.62)","i":17,"x":0.819,"y":0.941},{"g":"CD44 (AUC=0.62)","i":18,"x":0.842,"y":0.941},{"g":"CD44 (AUC=0.62)","i":19,"x":0.842,"y":1},{"g":"CD44 (AUC=0.62)","i":20,"x":1,"y":1},
                {"g":"EFNB2 (AUC=0.53)","i":0,"x":0,"y":0},{"g":"EFNB2 (AUC=0.53)","i":1,"x":0.026,"y":0},{"g":"EFNB2 (AUC=0.53)","i":2,"x":0.026,"y":0.059},{"g":"EFNB2 (AUC=0.53)","i":3,"x":0.19,"y":0.059},{"g":"EFNB2 (AUC=0.53)","i":4,"x":0.19,"y":0.118},{"g":"EFNB2 (AUC=0.53)","i":5,"x":0.212,"y":0.118},{"g":"EFNB2 (AUC=0.53)","i":6,"x":0.212,"y":0.176},{"g":"EFNB2 (AUC=0.53)","i":7,"x":0.237,"y":0.176},{"g":"EFNB2 (AUC=0.53)","i":8,"x":0.237,"y":0.235},{"g":"EFNB2 (AUC=0.53)","i":9,"x":0.306,"y":0.235},{"g":"EFNB2 (AUC=0.53)","i":10,"x":0.306,"y":0.412},{"g":"EFNB2 (AUC=0.53)","i":11,"x":0.424,"y":0.412},{"g":"EFNB2 (AUC=0.53)","i":12,"x":0.424,"y":0.471},{"g":"EFNB2 (AUC=0.53)","i":13,"x":0.445,"y":0.471},{"g":"EFNB2 (AUC=0.53)","i":14,"x":0.445,"y":0.588},{"g":"EFNB2 (AUC=0.53)","i":15,"x":0.563,"y":0.588},{"g":"EFNB2 (AUC=0.53)","i":16,"x":0.563,"y":0.647},{"g":"EFNB2 (AUC=0.53)","i":17,"x":0.632,"y":0.647},{"g":"EFNB2 (AUC=0.53)","i":18,"x":0.632,"y":0.706},{"g":"EFNB2 (AUC=0.53)","i":19,"x":0.675,"y":0.706},{"g":"EFNB2 (AUC=0.53)","i":20,"x":0.675,"y":0.765},{"g":"EFNB2 (AUC=0.53)","i":21,"x":0.726,"y":0.765},{"g":"EFNB2 (AUC=0.53)","i":22,"x":0.726,"y":0.824},{"g":"EFNB2 (AUC=0.53)","i":23,"x":0.749,"y":0.824},{"g":"EFNB2 (AUC=0.53)","i":24,"x":0.749,"y":0.882},{"g":"EFNB2 (AUC=0.53)","i":25,"x":0.932,"y":0.882},{"g":"EFNB2 (AUC=0.53)","i":26,"x":0.932,"y":0.941},{"g":"EFNB2 (AUC=0.53)","i":27,"x":0.954,"y":0.941},{"g":"EFNB2 (AUC=0.53)","i":28,"x":0.954,"y":1},{"g":"EFNB2 (AUC=0.53)","i":29,"x":1,"y":1},
                {"g":"NOTCH1 (AUC=0.55)","i":0,"x":0,"y":0},{"g":"NOTCH1 (AUC=0.55)","i":1,"x":0.026,"y":0},{"g":"NOTCH1 (AUC=0.55)","i":2,"x":0.026,"y":0.118},{"g":"NOTCH1 (AUC=0.55)","i":3,"x":0.075,"y":0.118},{"g":"NOTCH1 (AUC=0.55)","i":4,"x":0.075,"y":0.235},{"g":"NOTCH1 (AUC=0.55)","i":5,"x":0.1,"y":0.235},{"g":"NOTCH1 (AUC=0.55)","i":6,"x":0.1,"y":0.294},{"g":"NOTCH1 (AUC=0.55)","i":7,"x":0.19,"y":0.294},{"g":"NOTCH1 (AUC=0.55)","i":8,"x":0.19,"y":0.471},{"g":"NOTCH1 (AUC=0.55)","i":9,"x":0.348,"y":0.471},{"g":"NOTCH1 (AUC=0.55)","i":10,"x":0.348,"y":0.529},{"g":"NOTCH1 (AUC=0.55)","i":11,"x":0.748,"y":0.529},{"g":"NOTCH1 (AUC=0.55)","i":12,"x":0.748,"y":0.706},{"g":"NOTCH1 (AUC=0.55)","i":13,"x":0.77,"y":0.706},{"g":"NOTCH1 (AUC=0.55)","i":14,"x":0.77,"y":0.882},{"g":"NOTCH1 (AUC=0.55)","i":15,"x":0.889,"y":0.882},{"g":"NOTCH1 (AUC=0.55)","i":16,"x":0.889,"y":0.941},{"g":"NOTCH1 (AUC=0.55)","i":17,"x":0.98,"y":0.941},{"g":"NOTCH1 (AUC=0.55)","i":18,"x":0.98,"y":1},{"g":"NOTCH1 (AUC=0.55)","i":19,"x":1,"y":1},
                {"g":"NOTCH2 (AUC=0.61)","i":0,"x":0,"y":0},{"g":"NOTCH2 (AUC=0.61)","i":1,"x":0.074,"y":0},{"g":"NOTCH2 (AUC=0.61)","i":2,"x":0.074,"y":0.059},{"g":"NOTCH2 (AUC=0.61)","i":3,"x":0.097,"y":0.059},{"g":"NOTCH2 (AUC=0.61)","i":4,"x":0.097,"y":0.118},{"g":"NOTCH2 (AUC=0.61)","i":5,"x":0.122,"y":0.118},{"g":"NOTCH2 (AUC=0.61)","i":6,"x":0.122,"y":0.235},{"g":"NOTCH2 (AUC=0.61)","i":7,"x":0.212,"y":0.235},{"g":"NOTCH2 (AUC=0.61)","i":8,"x":0.212,"y":0.294},{"g":"NOTCH2 (AUC=0.61)","i":9,"x":0.237,"y":0.294},{"g":"NOTCH2 (AUC=0.61)","i":10,"x":0.237,"y":0.353},{"g":"NOTCH2 (AUC=0.61)","i":11,"x":0.33,"y":0.353},{"g":"NOTCH2 (AUC=0.61)","i":12,"x":0.33,"y":0.529},{"g":"NOTCH2 (AUC=0.61)","i":13,"x":0.353,"y":0.529},{"g":"NOTCH2 (AUC=0.61)","i":14,"x":0.353,"y":0.647},{"g":"NOTCH2 (AUC=0.61)","i":15,"x":0.563,"y":0.647},{"g":"NOTCH2 (AUC=0.61)","i":16,"x":0.563,"y":0.824},{"g":"NOTCH2 (AUC=0.61)","i":17,"x":0.726,"y":0.824},{"g":"NOTCH2 (AUC=0.61)","i":18,"x":0.726,"y":0.882},{"g":"NOTCH2 (AUC=0.61)","i":19,"x":0.771,"y":0.882},{"g":"NOTCH2 (AUC=0.61)","i":20,"x":0.771,"y":0.941},{"g":"NOTCH2 (AUC=0.61)","i":21,"x":0.91,"y":0.941},{"g":"NOTCH2 (AUC=0.61)","i":22,"x":0.91,"y":1},{"g":"NOTCH2 (AUC=0.61)","i":23,"x":1,"y":1},
                {"g":"NOTCH3 (AUC=0.50)","i":0,"x":0,"y":0},{"g":"NOTCH3 (AUC=0.50)","i":1,"x":0,"y":0.059},{"g":"NOTCH3 (AUC=0.50)","i":2,"x":0.026,"y":0.059},{"g":"NOTCH3 (AUC=0.50)","i":3,"x":0.026,"y":0.176},{"g":"NOTCH3 (AUC=0.50)","i":4,"x":0.122,"y":0.176},{"g":"NOTCH3 (AUC=0.50)","i":5,"x":0.122,"y":0.294},{"g":"NOTCH3 (AUC=0.50)","i":6,"x":0.33,"y":0.294},{"g":"NOTCH3 (AUC=0.50)","i":7,"x":0.33,"y":0.353},{"g":"NOTCH3 (AUC=0.50)","i":8,"x":0.445,"y":0.353},{"g":"NOTCH3 (AUC=0.50)","i":9,"x":0.445,"y":0.471},{"g":"NOTCH3 (AUC=0.50)","i":10,"x":0.518,"y":0.471},{"g":"NOTCH3 (AUC=0.50)","i":11,"x":0.518,"y":0.529},{"g":"NOTCH3 (AUC=0.50)","i":12,"x":0.585,"y":0.529},{"g":"NOTCH3 (AUC=0.50)","i":13,"x":0.585,"y":0.588},{"g":"NOTCH3 (AUC=0.50)","i":14,"x":0.772,"y":0.588},{"g":"NOTCH3 (AUC=0.50)","i":15,"x":0.772,"y":0.647},{"g":"NOTCH3 (AUC=0.50)","i":16,"x":0.819,"y":0.647},{"g":"NOTCH3 (AUC=0.50)","i":17,"x":0.819,"y":0.765},{"g":"NOTCH3 (AUC=0.50)","i":18,"x":0.865,"y":0.765},{"g":"NOTCH3 (AUC=0.50)","i":19,"x":0.865,"y":0.941},{"g":"NOTCH3 (AUC=0.50)","i":20,"x":0.887,"y":0.941},{"g":"NOTCH3 (AUC=0.50)","i":21,"x":0.887,"y":1},{"g":"NOTCH3 (AUC=0.50)","i":22,"x":1,"y":1}
              ]},
              "mark": {"type": "line", "strokeWidth": 1.3, "clip": true},
              "encoding": {
                "x": {"field": "x", "type": "quantitative", "title": "1 - Specificity",
                  "scale": {"domain": [-0.04, 1.04], "nice": false, "zero": false},
                  "axis": {"values": [0, 0.2, 0.4, 0.6, 0.8, 1], "format": ".1f", "labelFontSize": 7.5, "tickSize": 5, "tickColor": "#000",
                    "domain": false, "grid": false, "labelColor": "#000", "titleFontSize": 8, "titleFontWeight": "normal", "labelPadding": 3, "titlePadding": 7}},
                "y": {"field": "y", "type": "quantitative", "title": "Sensitivity",
                  "scale": {"domain": [-0.04, 1.04], "nice": false, "zero": false},
                  "axis": {"values": [0, 0.2, 0.4, 0.6, 0.8, 1], "format": ".1f", "labelFontSize": 7.5, "tickSize": 5, "tickColor": "#000",
                    "labelAngle": -90, "labelAlign": "center", "labelBaseline": "bottom",
                    "domain": false, "grid": false, "labelColor": "#000", "titleFontSize": 8, "titleFontWeight": "normal", "labelPadding": 4, "titlePadding": 14}},
                "color": {"field": "g", "type": "nominal",
                  "scale": {"domain": ["CDH1 (AUC=0.52)", "CDH2 (AUC=0.51)", "CD44 (AUC=0.62)", "EFNB2 (AUC=0.53)", "NOTCH1 (AUC=0.55)", "NOTCH2 (AUC=0.61)", "NOTCH3 (AUC=0.50)"],
                    "range": ["#1E8C4E", "#40C0B0", "#C8A27A", "#6B4A2A", "#3F5FB0", "#8E63C2", "#EF5B73"]},
                  "legend": {"title": "Known Gene Targets", "orient": "bottom-right", "symbolType": "stroke", "symbolStrokeWidth": 1.5, "symbolSize": 200,
                    "labelFontSize": 8.2, "titleFontSize": 8.2, "titleFontWeight": "normal", "rowPadding": 1, "offset": 6, "labelOffset": 6, "titlePadding": 6, "titleAnchor": "end"}},
                "order": {"field": "i", "type": "quantitative"}
              }
            },
            {
              "data": {"values": [{"x": -0.04, "y": -0.04}, {"x": 1.04, "y": 1.04}]},
              "mark": {"type": "line", "color": "#000", "strokeWidth": 1.1, "clip": true},
              "encoding": {
                "x": {"field": "x", "type": "quantitative", "title": "1 - Specificity"},
                "y": {"field": "y", "type": "quantitative", "title": "Sensitivity"}
              }
            },
            {
              "data": {"values": [
                {"g": "GSi-sensitivity signature (AUC=1)", "i": 0, "x": 0, "y": 0},
                {"g": "GSi-sensitivity signature (AUC=1)", "i": 1, "x": 0, "y": 1},
                {"g": "GSi-sensitivity signature (AUC=1)", "i": 2, "x": 1, "y": 1}
              ]},
              "mark": {"type": "line", "strokeWidth": 2.5, "clip": true},
              "encoding": {
                "x": {"field": "x", "type": "quantitative", "title": "1 - Specificity"},
                "y": {"field": "y", "type": "quantitative", "title": "Sensitivity"},
                "color": {"field": "g", "type": "nominal", "scale": {"range": ["#E31A1C"]},
                  "legend": {"title": null, "orient": "top-left", "symbolType": "stroke", "symbolStrokeWidth": 2.5, "symbolSize": 300, "labelFontSize": 8.5, "offset": 16, "labelOffset": 5}},
                "order": {"field": "i", "type": "quantitative"}
              }
            }
          ],
          "resolve": {"scale": {"color": "independent"}, "legend": {"color": "independent"}}
        },
        {"width": 32, "height": 1, "view": {"fill": "white", "stroke": null}, "data": {"values": []}, "mark": "point"},
        {
          "title": {"text": "F", "anchor": "start", "frame": "bounds", "fontSize": 14.5, "dx": 0, "offset": 3},
          "width": 294, "height": 315,
          "layer": [
            {
              "data": {"values": [
                {"rank":1,"score":-4160,"group":"GSi-insensitive"},{"rank":2,"score":-3880,"group":"GSi-insensitive"},{"rank":3,"score":-3840,"group":"GSi-insensitive"},{"rank":4,"score":-3275,"group":"GSi-insensitive"},{"rank":5,"score":-2490,"group":"GSi-insensitive"},{"rank":6,"score":-2460,"group":"GSi-insensitive"},{"rank":7,"score":-2350,"group":"GSi-insensitive"},{"rank":8,"score":-2340,"group":"GSi-insensitive"},{"rank":9,"score":-2030,"group":"GSi-insensitive"},{"rank":10,"score":-2000,"group":"GSi-insensitive"},
                {"rank":11,"score":-1980,"group":"GSi-insensitive"},{"rank":12,"score":-1805,"group":"GSi-insensitive"},{"rank":13,"score":-1790,"group":"GSi-insensitive"},{"rank":14,"score":-1780,"group":"GSi-insensitive"},{"rank":15,"score":-1745,"group":"GSi-insensitive"},{"rank":16,"score":-1730,"group":"GSi-insensitive"},{"rank":17,"score":-1655,"group":"GSi-insensitive"},{"rank":18,"score":-1620,"group":"GSi-insensitive"},{"rank":19,"score":-1600,"group":"GSi-insensitive"},{"rank":20,"score":-995,"group":"GSi-insensitive"},
                {"rank":21,"score":-940,"group":"GSi-insensitive"},{"rank":22,"score":-707,"group":"GSi-insensitive"},{"rank":23,"score":-647,"group":"GSi-insensitive"},{"rank":24,"score":-563,"group":"GSi-insensitive"},{"rank":25,"score":-396,"group":"GSi-insensitive"},{"rank":26,"score":-318,"group":"GSi-insensitive"},{"rank":27,"score":-293,"group":"GSi-insensitive"},{"rank":28,"score":-275,"group":"GSi-insensitive"},{"rank":29,"score":-185,"group":"GSi-insensitive"},{"rank":30,"score":-95,"group":"GSi-insensitive"},
                {"rank":31,"score":-36,"group":"GSi-insensitive"},{"rank":32,"score":-25,"group":"GSi-insensitive"},{"rank":33,"score":-22,"group":"GSi-insensitive"},{"rank":34,"score":-20,"group":"GSi-insensitive"},{"rank":35,"score":-18,"group":"GSi-insensitive"},{"rank":36,"score":-16,"group":"GSi-insensitive"},{"rank":37,"score":-14,"group":"GSi-insensitive"},{"rank":38,"score":-12,"group":"GSi-insensitive"},{"rank":39,"score":-10,"group":"GSi-insensitive"},{"rank":40,"score":-8,"group":"GSi-insensitive"},
                {"rank":41,"score":-7,"group":"GSi-insensitive"},{"rank":42,"score":-6,"group":"GSi-insensitive"},{"rank":43,"score":-5,"group":"GSi-insensitive"},
                {"rank":44,"score":5,"group":"GSi-sensitive"},{"rank":45,"score":6,"group":"GSi-sensitive"},{"rank":46,"score":8,"group":"GSi-sensitive"},{"rank":47,"score":10,"group":"GSi-sensitive"},{"rank":48,"score":12,"group":"GSi-sensitive"},{"rank":49,"score":14,"group":"GSi-sensitive"},{"rank":50,"score":16,"group":"GSi-sensitive"},
                {"rank":51,"score":18,"group":"GSi-sensitive"},{"rank":52,"score":20,"group":"GSi-sensitive"},{"rank":53,"score":22,"group":"GSi-sensitive"},{"rank":54,"score":110,"group":"GSi-sensitive"},{"rank":55,"score":270,"group":"GSi-sensitive"},{"rank":56,"score":288,"group":"GSi-sensitive"},{"rank":57,"score":432,"group":"GSi-sensitive"},{"rank":58,"score":648,"group":"GSi-sensitive"},{"rank":59,"score":761,"group":"GSi-sensitive"},{"rank":60,"score":1020,"group":"GSi-sensitive"}
              ]},
              "mark": {"type": "bar", "width": 4.63, "stroke": "#7f9a7f", "strokeWidth": 0.5},
              "encoding": {
                "x": {"field": "rank", "type": "quantitative", "scale": {"domain": [0.07, 63.5], "nice": false, "zero": false}, "axis": null},
                "y": {"field": "score", "type": "quantitative", "title": "GSi-sensitivity score",
                  "scale": {"domain": [-4380, 1290], "nice": false},
                  "axis": {"values": [-4000, -3000, -2000, -1000, 0, 1000], "format": "d", "labelFontSize": 4.5, "tickSize": 2, "domainColor": "#888", "domainWidth": 2,
                    "tickColor": "#666", "labelColor": "#444", "grid": false, "titleFontSize": 9, "titleFontWeight": "normal", "labelPadding": 2, "titlePadding": 16}},
                "color": {"field": "group", "type": "nominal", "scale": {"domain": ["GSi-insensitive", "GSi-sensitive"], "range": ["#6A2C8E", "#3DB54A"]},
                  "legend": {"title": null, "orient": "none", "legendX": 191, "legendY": 80, "symbolType": "square", "symbolSize": 36, "labelFontSize": 9.5, "rowPadding": 1, "labelOffset": 4, "symbolStrokeWidth": 0}}
              }
            },
            {
              "data": {"values": [{"score": 0}]},
              "mark": {"type": "rule", "color": "#000", "strokeWidth": 1.3},
              "encoding": {"y": {"field": "score", "type": "quantitative", "title": "GSi-sensitivity score"}}
            }
          ]
        }
      ],
      "columns": 4,
      "align": "each",
      "spacing": 0,
      "resolve": {"scale": {"x": "independent", "y": "independent", "color": "independent"}}
    }
  ]
}
